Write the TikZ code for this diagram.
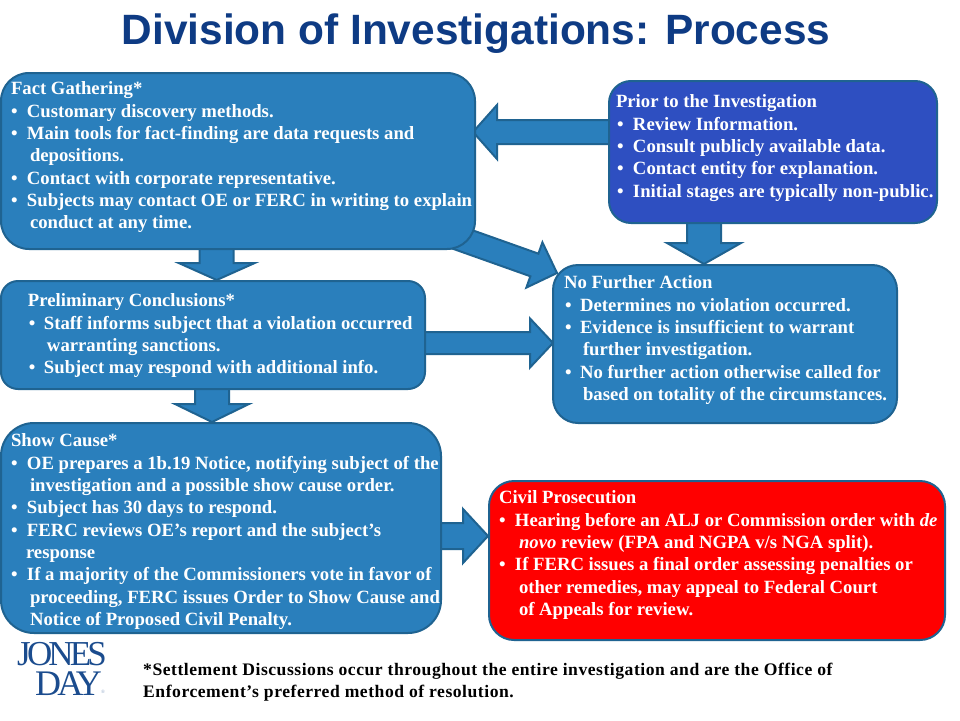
\documentclass[tikz,border=0pt]{standalone}
\usepackage{fontspec}
\usetikzlibrary{calc}
\setmainfont{Liberation Serif}
\newfontfamily\titlefont{Liberation Sans}
\newfontfamily\footfont[LetterSpace=3]{Liberation Serif}
\newfontfamily\logofont[LetterSpace=-11]{Liberation Serif}
\definecolor{boxblue}{HTML}{2A7FBC}
\definecolor{edgeblue}{HTML}{1F6391}
\definecolor{royal}{HTML}{2E4FC1}
\definecolor{titleblue}{HTML}{0E3B84}
\definecolor{logoblue}{HTML}{1B4C8E}
\tikzset{
  panel/.style={draw=edgeblue,line width=2pt,text=white,inner sep=0pt,anchor=north west,font=\fontsize{18.7}{22.3}\selectfont\bfseries},
  blockarrow/.style={draw=edgeblue,line width=2pt,fill=boxblue,line join=miter},
}
% text line inside a panel: indent, text
\newcommand\tl[2]{\hbox{\kern#1pt\rule{0pt}{12pt}#2}}
\newcommand\bl[3]{\hbox{\kern#1pt\rule{0pt}{12pt}\makebox[#2pt][l]{\textbullet}#3}}
% panel: name, x, y, w, h, radius, fill, first-line pad, lines
\newcommand\panelbox[9]{%
  \node[panel,fill=#7,rounded corners=#6pt,minimum width=#4pt,minimum height=#5pt] (#1) at (#2,#3)
   {\parbox[c][#5pt][t]{#4pt}{\baselineskip=22.3pt\lineskiplimit=-100pt\hrule width #4pt height 0pt\kern#8pt\relax #9}};}
% block arrow: from, to, half shaft, half head, head length
\newcommand\blockarr[5]{%
  \coordinate (A) at #1; \coordinate (B) at #2;
  \coordinate (H) at ($(B)!#5pt!(A)$);
  \draw[blockarrow] ($(A)!#3pt!90:(B)$) -- ($(H)!#3pt!90:(B)$) -- ($(H)!#4pt!90:(B)$) -- (B)
     -- ($(H)!#4pt!-90:(B)$) -- ($(H)!#3pt!-90:(B)$) -- ($(A)!#3pt!-90:(B)$) -- cycle;}
\begin{document}
\begin{tikzpicture}[x=1pt,y=-1pt]
\useasboundingbox (0,0) rectangle (960,720);
\fill[white] (0,0) rectangle (960,720);
\node[font=\titlefont\fontsize{42.4}{48}\selectfont\bfseries,text=titleblue,inner sep=0pt] (title) at (476,33.5) {Division of Investigations: Process};

\coordinate (factOut) at (450,235);
\coordinate (factDown) at (216.7,245);
\coordinate (prelimDown) at (212,385);
\coordinate (prelimOut) at (420,343);
\coordinate (priorOut) at (612,132);
\coordinate (priorDown) at (704,219);
\coordinate (showOut) at (436,536);
\coordinate (factIn) at (473,132);
\coordinate (prelimIn) at (216.7,280);
\coordinate (showIn) at (212,422);
\coordinate (noneA) at (557,273);
\coordinate (noneB) at (553,343);
\coordinate (noneC) at (704,264);
\coordinate (civilIn) at (488,536);

\blockarr{(priorOut)}{(factIn)}{12}{27}{24}
\blockarr{(priorDown)}{(noneC)}{17}{37}{21}
\blockarr{(factOut)}{(noneA)}{12}{24}{24}
\blockarr{(prelimOut)}{(noneB)}{11}{24.5}{23}
\blockarr{(factDown)}{(prelimIn)}{17}{38}{17}
\blockarr{(prelimDown)}{(showIn)}{17}{37}{18}
\blockarr{(showOut)}{(civilIn)}{13}{27}{25}

\panelbox{fact}{0}{72}{474}{176}{28}{boxblue}{9}{%
\tl{10}{Fact Gathering*}
\bl{10}{16}{Customary discovery methods.}
\bl{10}{16}{Main tools for fact-finding are data requests and}
\tl{29}{depositions.}
\bl{10}{16}{Contact with corporate representative.}
\bl{10}{16}{Subjects may contact OE or FERC in writing to explain}
\tl{29}{conduct at any time.}}

\panelbox{prelim}{0}{280}{424}{108}{17}{boxblue}{13}{%
\tl{27}{Preliminary Conclusions*}
\bl{28}{15}{Staff informs subject that a violation occurred}
\tl{46}{warranting sanctions.}
\bl{28}{15}{Subject may respond with additional info.}}

\panelbox{prior}{608}{80}{328}{142}{22}{royal}{14}{%
\tl{7}{Prior to the Investigation}
\bl{8}{16}{Review Information.}
\bl{8}{16}{Consult publicly available data.}
\bl{8}{16}{Contact entity for explanation.}
\bl{8}{16}{Initial stages are typically non-public.}}

\panelbox{none}{552}{264}{344}{158}{25}{boxblue}{11}{%
\tl{11}{No Further Action}
\bl{12}{15}{Determines no violation occurred.}
\bl{12}{15}{Evidence is insufficient to warrant}
\tl{30}{further investigation.}
\bl{12}{15}{No further action otherwise called for}
\tl{30}{based on totality of the circumstances.}}

\panelbox{show}{0}{422}{440}{210}{33}{boxblue}{11}{%
\tl{10}{Show Cause*}
\bl{10}{16}{OE prepares a 1b.19 Notice, notifying subject of the}
\tl{29}{investigation and a possible show cause order.}
\bl{10}{16}{Subject has 30 days to respond.}
\bl{10}{16}{FERC reviews OE’s report and the subject’s}
\tl{25}{response}
\bl{10}{16}{If a majority of the Commissioners vote in favor of}
\tl{29}{proceeding, FERC issues Order to Show Cause and}
\tl{29}{Notice of Proposed Civil Penalty.}}

\panelbox{civil}{488}{480}{456}{159}{25}{red}{10}{%
\tl{10}{Civil Prosecution}
\bl{10}{16}{Hearing before an ALJ or Commission order with \textit{de}}
\tl{30}{\textit{novo} review (FPA and NGPA v/s NGA split).}
\bl{10}{16}{If FERC issues a final order assessing penalties or}
\tl{30}{other remedies, may appeal to Federal Court}
\tl{30}{of Appeals for review.}}

\node[anchor=base west,inner sep=0pt,font=\logofont\fontsize{35}{35}\selectfont,text=logoblue] (jones) at (17,665) {JONES};
\node[anchor=base west,inner sep=0pt,font=\logofont\fontsize{36}{36}\selectfont,text=logoblue] (day) at (35,695) {DAY};
\node[anchor=base west,inner sep=0pt,font=\fontsize{5}{5}\selectfont,text=logoblue!50] (reg) at (101,693) {®};

\node[anchor=base west,inner sep=0pt,font=\footfont\fontsize{17.6}{20}\selectfont\bfseries,text=black] (note1) at (143,675) {*Settlement Discussions occur throughout the entire investigation and are the Office of};
\node[anchor=base west,inner sep=0pt,font=\footfont\fontsize{17.6}{20}\selectfont\bfseries,text=black] (note2) at (143,697) {Enforcement’s preferred method of resolution.};
\end{tikzpicture}
\end{document}
